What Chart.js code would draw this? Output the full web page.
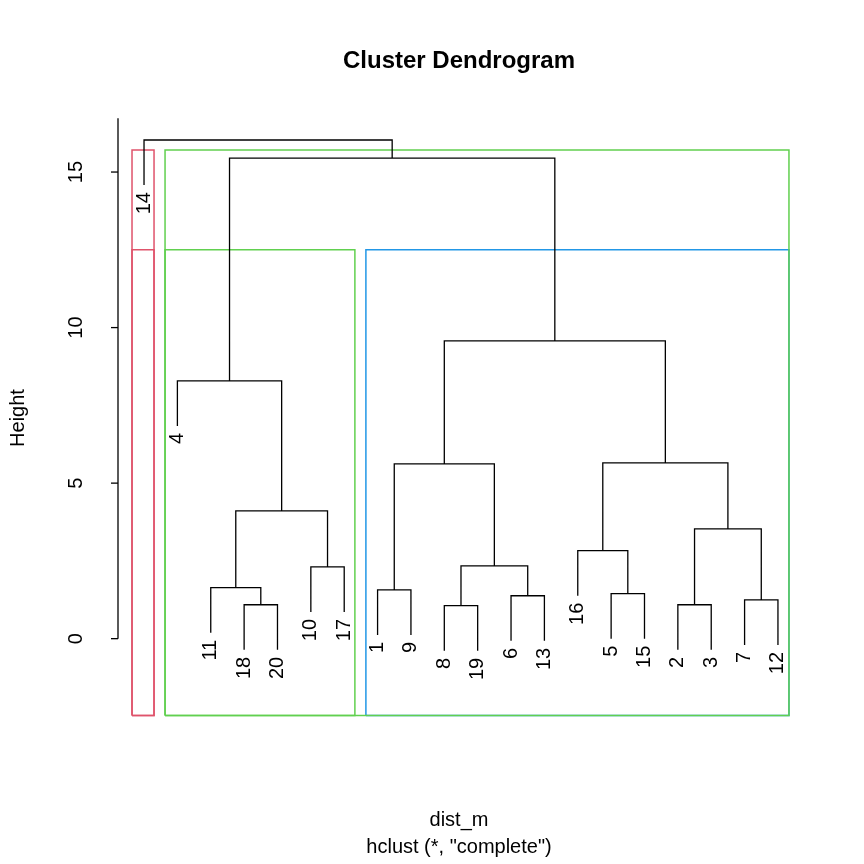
<!DOCTYPE html>
<html><head><meta charset="utf-8">
<script src="https://cdn.jsdelivr.net/npm/chart.js@4"></script>
<style>html,body{margin:0;padding:0;background:#fff}</style>
</head><body>
<canvas id="c" width="864" height="864" style="width:864px;height:864px"></canvas>
<script>
// Leaf order (left to right) and labels
const leafOrder = [14,4,11,18,20,10,17,1,9,8,19,6,13,16,5,15,2,3,7,12];
// Merges (R hclust style: negative = leaf label, positive = earlier merge index, 1-based)
const mergeLeft  = [-18, -11, -10, 2, -4, -1, -8, -6, 7, 6, -5, -16, -2, -7, 13, 12, 10, 5, -14];
const mergeRight = [-20,   1, -17, 3,  4, -9,-19,-13, 8, 9,-15,  11, -3,-12, 14, 15, 16, 17, 18];
const mergeHeight= [1.09,1.64,2.31,4.11,8.29,1.57,1.06,1.38,2.34,5.62,1.45,2.83,1.09,1.25,3.53,5.65,9.57,15.45,16.03];
const hang = 1.45;
const yTicks = [0,5,10,15];
// rect.hclust boxes: [xLeft, xRight, yBottom, yTop, colour]
const rectX1 = [0.64, 0.64, 1.63, 1.63, 7.65];
const rectX2 = [1.30, 1.30, 20.33, 7.32, 20.33];
const rectY1 = [-2.47,-2.47,-2.47,-2.47,-2.47];
const rectY2 = [15.71,12.50,15.71,12.50,12.50];
const rectCol = ['#DF536B','#DF536B','#61D04F','#61D04F','#2297E6'];

const FONT = '"Liberation Sans", Arial, sans-serif';
const pos = {}; leafOrder.forEach((l,i)=>pos[l]=i+1);
const mx = [], leafTips = {};
const pts = [];
function child(id, h){
  if(id<0){ const b=h-hang; leafTips[-id]=b; return {x:pos[-id], y:b}; }
  return {x:mx[id-1], y:mergeHeight[id-1]};
}
for(let i=0;i<mergeHeight.length;i++){
  const h=mergeHeight[i];
  const a=child(mergeLeft[i],h), b=child(mergeRight[i],h);
  mx.push((a.x+b.x)/2);
  pts.push({x:a.x,y:a.y},{x:a.x,y:h},{x:b.x,y:h},{x:b.x,y:b.y},{x:null,y:null});
}
const datasets=[{data:pts,showLine:true,borderColor:'#000',borderWidth:1.3,pointRadius:0,spanGaps:false,fill:false}];
for(let i=0;i<rectX1.length;i++){
  datasets.push({data:[{x:rectX1[i],y:rectY1[i]},{x:rectX2[i],y:rectY1[i]},{x:rectX2[i],y:rectY2[i]},{x:rectX1[i],y:rectY2[i]},{x:rectX1[i],y:rectY1[i]}],
    showLine:true,borderColor:rectCol[i],borderWidth:1.5,pointRadius:0,fill:false});
}
const deco={id:'deco',afterDraw(ch){
  const c=ch.ctx,xs=ch.scales.x,ys=ch.scales.y;
  c.save();c.fillStyle='#000';c.strokeStyle='#000';c.lineWidth=1.3;
  c.font='20px '+FONT;
  leafOrder.forEach(l=>{
    const x=xs.getPixelForValue(pos[l]), y=ys.getPixelForValue(leafTips[l]);
    c.save();c.translate(x,y+7);c.rotate(-Math.PI/2);c.textAlign='right';c.textBaseline='middle';
    c.fillText(String(l),0,0);c.restore();
  });
  const ax=118;
  c.beginPath();c.moveTo(ax,ys.getPixelForValue(0));c.lineTo(ax,ys.getPixelForValue(16.73));c.stroke();
  yTicks.forEach(t=>{const y=ys.getPixelForValue(t);
    c.beginPath();c.moveTo(ax,y);c.lineTo(ax-7,y);c.stroke();
    c.save();c.translate(76,y);c.rotate(-Math.PI/2);c.textAlign='center';c.textBaseline='middle';c.fillText(String(t),0,0);c.restore();});
  c.save();c.translate(18,418);c.rotate(-Math.PI/2);c.textAlign='center';c.textBaseline='middle';c.fillText('Height',0,0);c.restore();
  c.textAlign='center';c.textBaseline='middle';
  c.fillText('dist_m',459,820);
  c.fillText('hclust (*, "complete")',459,847);
  c.font='bold 24px '+FONT;
  c.fillText('Cluster Dendrogram',459,61);
  c.restore();
}};
new Chart(document.getElementById('c'),{type:'scatter',data:{datasets},
 options:{responsive:false,animation:false,devicePixelRatio:1,
  layout:{padding:{left:118,right:34,top:98,bottom:104}},
  plugins:{legend:{display:false},tooltip:{enabled:false}},
  scales:{x:{type:'linear',min:0.22,max:21.56,display:false},y:{type:'linear',min:-3.9,max:17.38,display:false}}},
 plugins:[deco]});
</script>
</body></html>
